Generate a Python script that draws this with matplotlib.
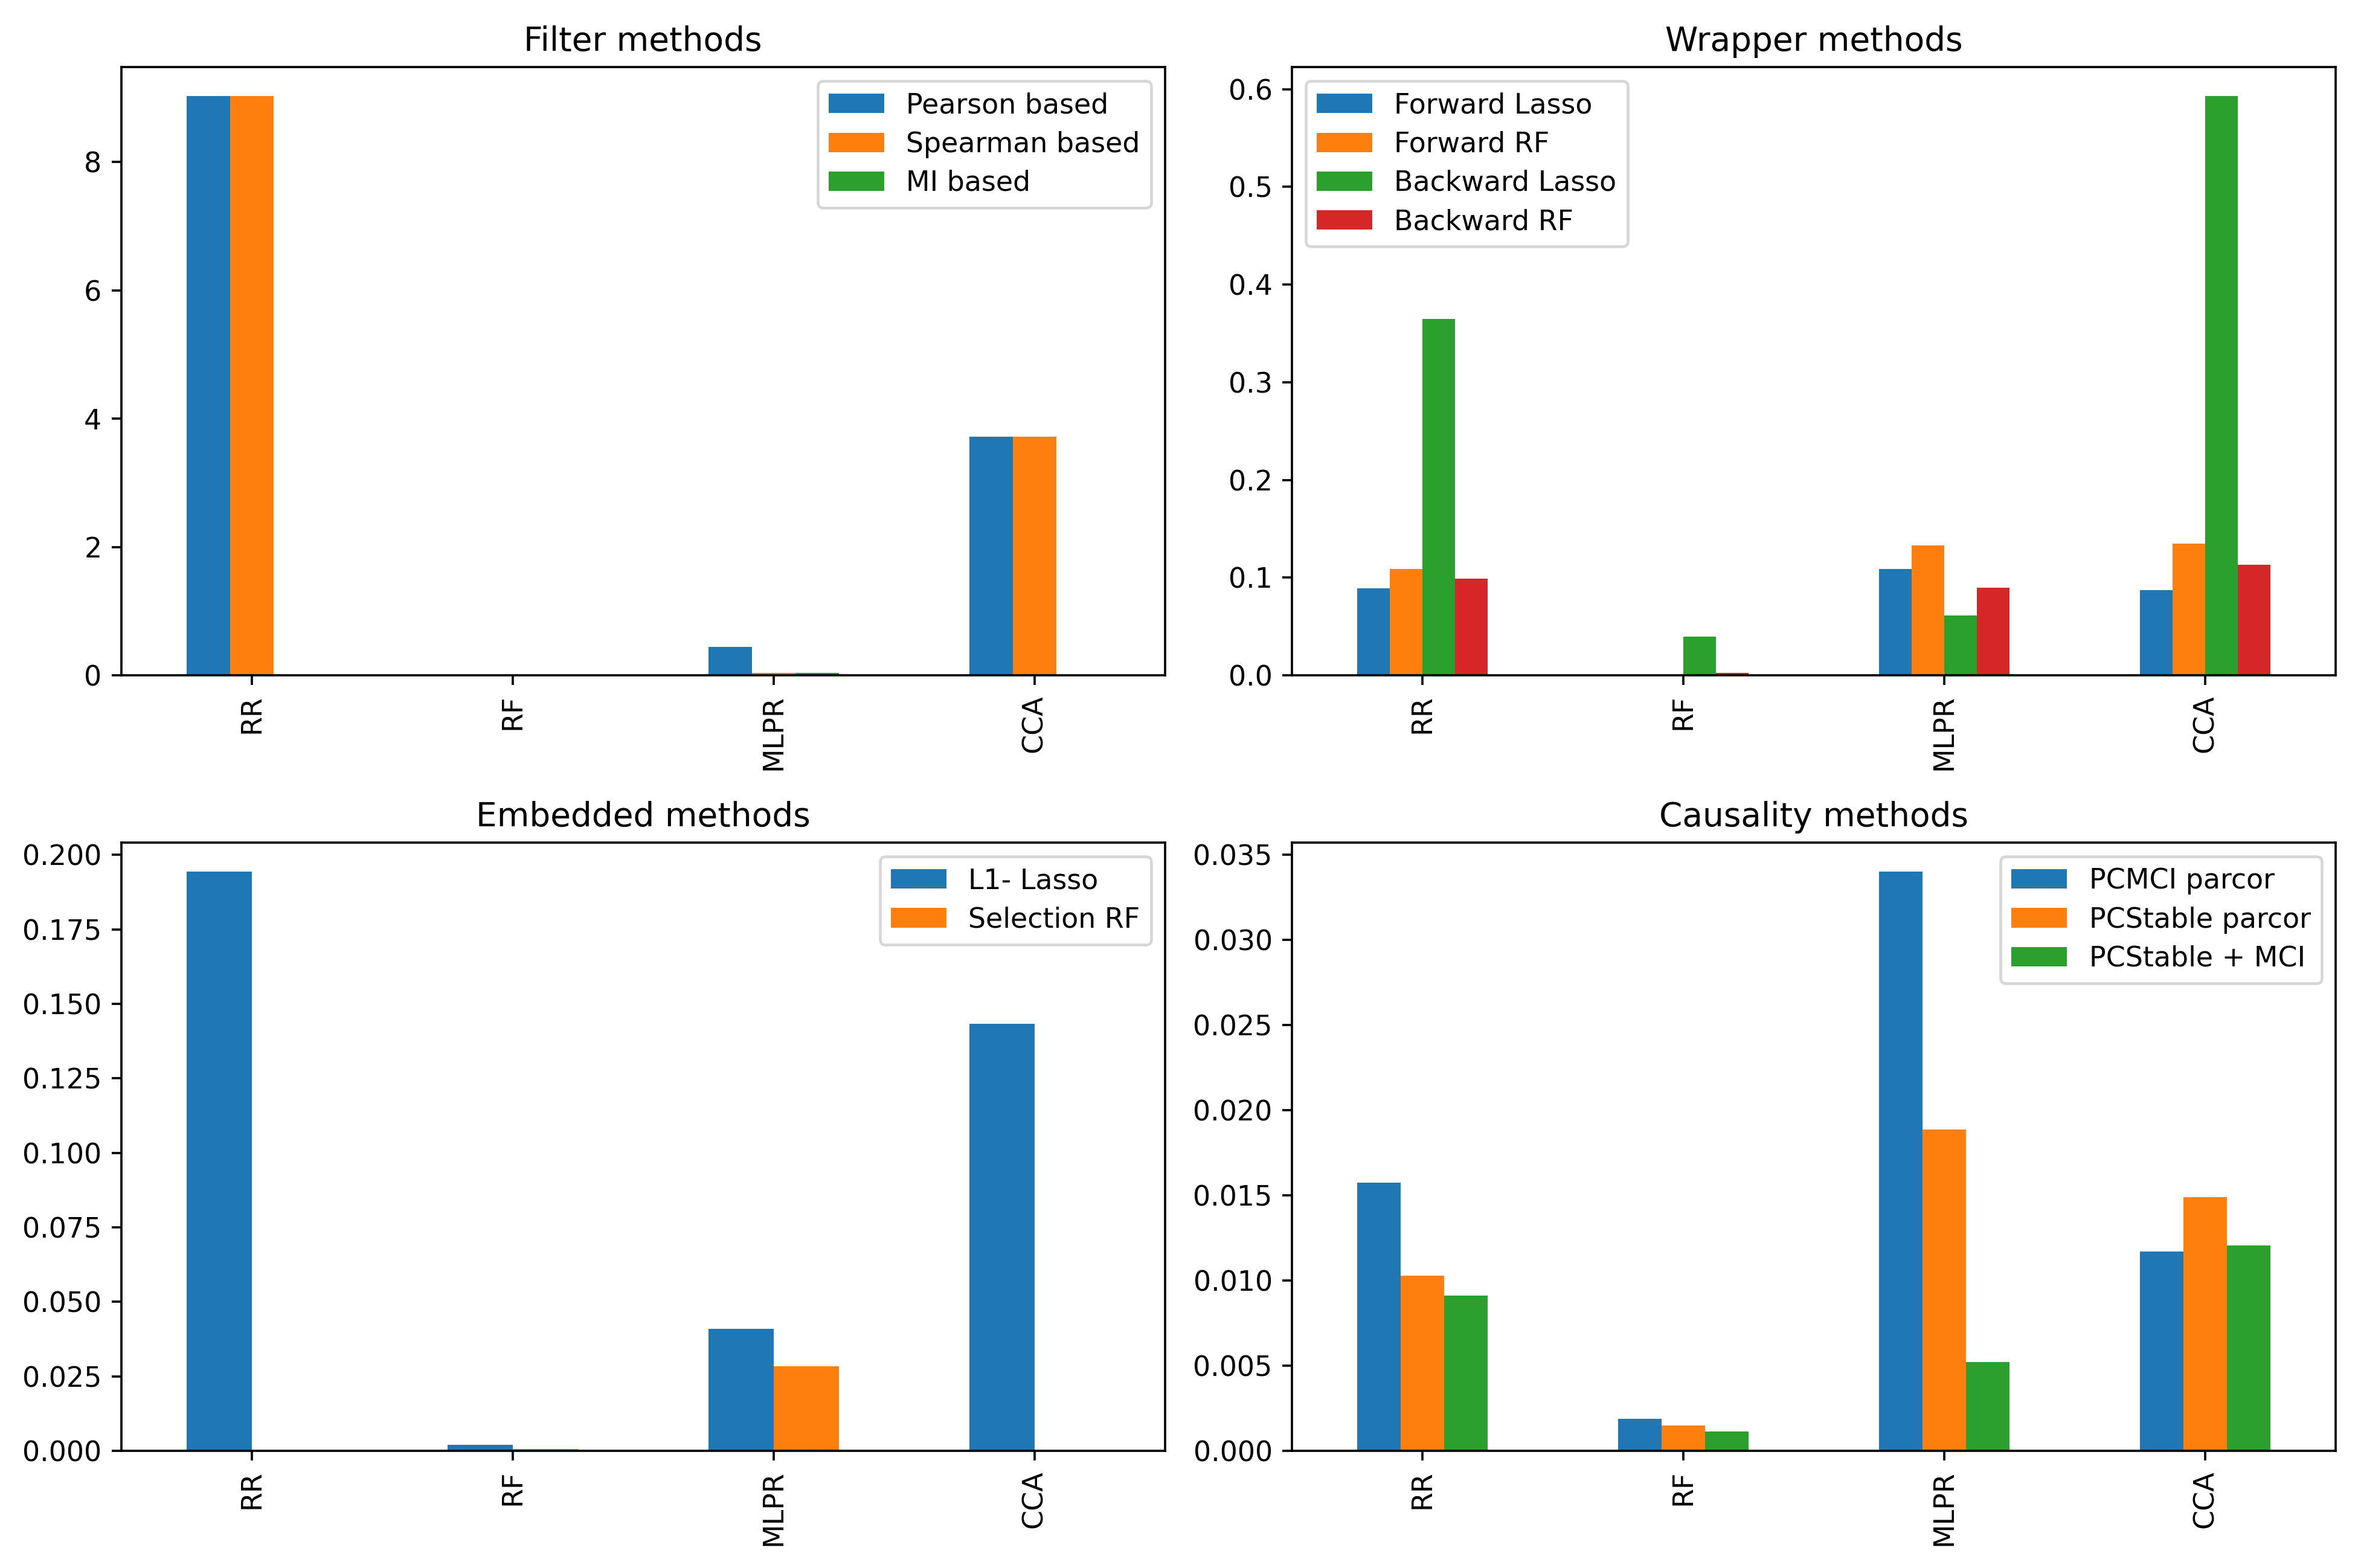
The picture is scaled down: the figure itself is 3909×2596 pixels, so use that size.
import numpy as np
import matplotlib
matplotlib.use("Agg")
import matplotlib.pyplot as plt

models = ["RR", "RF", "MLPR", "CCA"]

# Filter methods
filter_names = ["Pearson based", "Spearman based", "MI based"]
filter_vals = [
    [9.03, 0.0, 0.445, 3.72],   # Pearson based
    [9.03, 0.0, 0.036, 3.72],   # Spearman based
    [0.0, 0.0, 0.036, 0.0],     # MI based
]

# Wrapper methods
wrapper_names = ["Forward Lasso", "Forward RF", "Backward Lasso", "Backward RF"]
wrapper_vals = [
    [0.089, 0.0, 0.109, 0.087],
    [0.109, 0.0006, 0.133, 0.135],
    [0.365, 0.0396, 0.061, 0.593],
    [0.099, 0.0025, 0.090, 0.113],
]

# Embedded methods
embedded_names = ["L1- Lasso", "Selection RF"]
embedded_vals = [
    [0.1944, 0.0021, 0.0409, 0.1434],
    [0.0, 0.00055, 0.0284, 0.0],
]

# Causality methods
causal_names = ["PCMCI parcor", "PCStable parcor", "PCStable + MCI"]
causal_vals = [
    [0.01575, 0.00187, 0.0340, 0.01170],
    [0.01027, 0.00149, 0.01885, 0.01488],
    [0.00912, 0.00114, 0.00522, 0.01204],
]

colors = ["#1f77b4", "#ff7f0e", "#2ca02c", "#d62728"]


def grouped_bars(ax, names, vals, title, loc):
    x = np.arange(len(models))
    k = len(names)
    w = 0.5 / k
    for j, (name, v) in enumerate(zip(names, vals)):
        ax.bar(x - 0.25 + j * w, v, width=w, align="edge",
               color=colors[j], label=name)
    ax.set_xticks(x)
    ax.set_xticklabels(models, rotation=90)
    ax.set_xlim(-0.5, len(models) - 0.5)
    ax.set_title(title)
    ax.legend(loc=loc, labelspacing=0.42)


dpi = 330
fig, axes = plt.subplots(2, 2, figsize=(3910 / dpi, 2596 / dpi), dpi=dpi)

grouped_bars(axes[0, 0], filter_names, filter_vals, "Filter methods", "upper right")
grouped_bars(axes[0, 1], wrapper_names, wrapper_vals, "Wrapper methods", "upper left")
grouped_bars(axes[1, 0], embedded_names, embedded_vals, "Embedded methods", "upper right")
grouped_bars(axes[1, 1], causal_names, causal_vals, "Causality methods", "upper right")

fig.subplots_adjust(left=0.0513, right=0.989, top=0.9572, bottom=0.0747,
                    wspace=0.1215, hspace=0.275)

fig.savefig("out.png", dpi=dpi)
